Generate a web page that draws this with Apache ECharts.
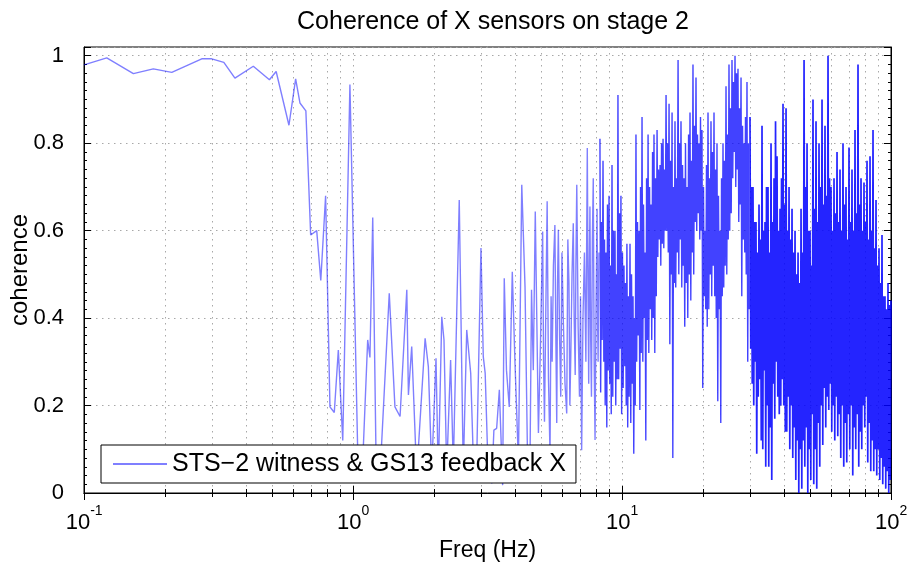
<!DOCTYPE html>
<html>
<head>
<meta charset="utf-8">
<title>Coherence of X sensors on stage 2</title>
<script src="https://cdn.jsdelivr.net/npm/echarts@6/dist/echarts.min.js"></script>
<style>
  html, body { margin: 0; padding: 0; background: #fff; }
  #chart { width: 909px; height: 565px; }
</style>
</head>
<body>
<div id="chart"></div>
<script>
// values (coherence vs frequency in Hz)
const lowFreq = [0.1, 0.1215, 0.1526, 0.181, 0.212, 0.274, 0.2985, 0.331, 0.364, 0.426, 0.489, 0.518,
  0.578, 0.612, 0.635, 0.668, 0.696, 0.733, 0.759, 0.791, 0.821, 0.852, 0.882, 0.916, 0.974, 0.989];
const lowCoh = [0.979, 0.995, 0.959, 0.970, 0.962, 0.993, 0.993, 0.985, 0.949, 0.976, 0.945, 0.964,
  0.841, 0.947, 0.892, 0.874, 0.590, 0.600, 0.486, 0.680, 0.197, 0.184, 0.327, 0.120, 0.934, 0.934];

const midFreq = [1.04, 1.08, 1.134, 1.156, 1.184, 1.22, 1.26, 1.364, 1.432, 1.496, 1.585, 1.607, 1.653, 1.725,
  1.854, 1.906, 1.962, 2.035, 2.075, 2.138, 2.179, 2.23, 2.306, 2.36, 2.43, 2.483, 2.57, 2.647, 2.739, 2.80,
  2.88, 2.99, 3.05, 3.10, 3.18, 3.28, 3.34, 3.42, 3.50, 3.60, 3.65, 3.72, 3.81, 3.91, 4.00, 4.12, 4.24, 4.36,
  4.45, 4.55, 4.61, 4.68, 4.76, 4.89, 4.98, 5.07, 5.11, 5.15, 5.21, 5.27, 5.33, 5.40, 5.45, 5.50, 5.56, 5.63,
  5.68, 5.72, 5.76, 5.80, 5.86, 5.92, 5.98, 6.05, 6.14, 6.23, 6.29, 6.35, 6.40, 6.45, 6.52, 6.59, 6.64, 6.70,
  6.74, 6.79, 6.87, 6.95, 7.01, 7.08, 7.16, 7.25, 7.34, 7.43, 7.48, 7.52, 7.56, 7.60, 7.65, 7.70, 7.76, 7.82,
  7.88, 7.94, 8.01, 8.08, 8.12, 8.15, 8.21];
const midCoh = [0.11, 0.03, 0.35, 0.31, 0.63, 0.05, 0.04, 0.457, 0.197, 0.175, 0.465, 0.224, 0.335, 0.04,
  0.354, 0.289, 0.05, 0.308, 0.04, 0.403, 0.35, 0.05, 0.304, 0.06, 0.411, 0.67, 0.05, 0.373, 0.274, 0.08,
  0.06, 0.56, 0.312, 0.274, 0.05, 0.022, 0.144, 0.148, 0.236, 0.018, 0.491, 0.281, 0.197, 0.506, 0.30, 0.07, 0.705, 0.472,
  0.10, 0.07, 0.465, 0.281, 0.644, 0.137, 0.35, 0.598, 0.30, 0.163, 0.42, 0.667, 0.26, 0.09, 0.45, 0.30, 0.52, 0.613,
  0.34, 0.16, 0.48, 0.602, 0.36, 0.22, 0.55, 0.396, 0.25, 0.182, 0.58, 0.48, 0.20, 0.31, 0.50, 0.617, 0.40, 0.27,
  0.52, 0.705, 0.38, 0.22, 0.45, 0.098, 0.40, 0.55, 0.30, 0.789, 0.45, 0.25, 0.50, 0.655, 0.35, 0.22, 0.58, 0.72,
  0.30, 0.121, 0.44, 0.65, 0.38, 0.30, 0.55];

// 8 - 30 Hz
const bandFreq = [
  8.28, 8.33, 8.39, 8.44, 8.50, 8.56, 8.61, 8.66, 8.72, 8.78, 8.83, 8.89, 8.95, 9.01, 9.07, 9.12,
  9.18, 9.24, 9.30, 9.36, 9.42, 9.48, 9.54, 9.60, 9.66, 9.72, 9.79, 9.85, 9.91, 9.97, 10.04, 10.10,
  10.17, 10.24, 10.30, 10.37, 10.43, 10.50, 10.57, 10.63, 10.71, 10.78, 10.85, 10.92, 10.99, 11.06, 11.13, 11.20,
  11.27, 11.34, 11.42, 11.49, 11.57, 11.65, 11.72, 11.79, 11.87, 11.95, 12.02, 12.10, 12.18, 12.26, 12.34, 12.42,
  12.50, 12.58, 12.66, 12.74, 12.82, 12.90, 12.99, 13.07, 13.15, 13.24, 13.32, 13.41, 13.50, 13.59, 13.67, 13.76,
  13.85, 13.94, 14.03, 14.12, 14.21, 14.30, 14.39, 14.49, 14.58, 14.67, 14.77, 14.86, 14.96, 15.06, 15.15, 15.25,
  15.35, 15.45, 15.55, 15.65, 15.74, 15.84, 15.95, 16.05, 16.16, 16.26, 16.37, 16.47, 16.57, 16.68, 16.79, 16.89,
  17.00, 17.11, 17.22, 17.33, 17.45, 17.56, 17.68, 17.79, 17.90, 18.02, 18.13, 18.25, 18.36, 18.48, 18.60, 18.72,
  18.84, 18.96, 19.08, 19.21, 19.33, 19.46, 19.58, 19.71, 19.83, 19.96, 20.09, 20.21, 20.35, 20.48, 20.61, 20.74,
  20.88, 21.02, 21.15, 21.28, 21.42, 21.56, 21.70, 21.84, 21.98, 22.12, 22.26, 22.41, 22.55, 22.70, 22.84, 22.99,
  23.14, 23.29, 23.44, 23.59, 23.74, 23.89, 24.05, 24.20, 24.36, 24.52, 24.67, 24.83, 24.99, 25.15, 25.31, 25.47,
  25.64, 25.81, 25.97, 26.14, 26.31, 26.48, 26.65, 26.82, 26.99, 27.17, 27.34, 27.51, 27.70, 27.88, 28.06, 28.24,
  28.41, 28.60, 28.78, 28.96, 29.15, 29.34, 29.53, 29.72];
const bandCoh = [
  0.81, 0.23, 0.62, 0.35, 0.76, 0.30, 0.58, 0.20, 0.55, 0.15, 0.66, 0.28, 0.68, 0.25, 0.52, 0.18,
  0.75, 0.22, 0.60, 0.30, 0.60, 0.20, 0.50, 0.26, 0.91, 0.26, 0.64, 0.33, 0.68, 0.18, 0.55, 0.24,
  0.52, 0.29, 0.48, 0.20, 0.57, 0.15, 0.45, 0.22, 0.57, 0.16, 0.50, 0.25, 0.45, 0.09, 0.40, 0.20,
  0.82, 0.30, 0.62, 0.36, 0.60, 0.19, 0.70, 0.32, 0.86, 0.30, 0.66, 0.40, 0.55, 0.12, 0.72, 0.35,
  0.82, 0.32, 0.70, 0.42, 0.66, 0.35, 0.78, 0.40, 0.82, 0.32, 0.72, 0.45, 0.83, 0.54, 0.74, 0.58,
  0.75, 0.52, 0.80, 0.57, 0.81, 0.56, 0.74, 0.60, 0.91, 0.60, 0.80, 0.55, 0.89, 0.34, 0.76, 0.50,
  0.87, 0.08, 0.70, 0.48, 0.85, 0.47, 0.72, 0.55, 0.99, 0.50, 0.80, 0.58, 0.85, 0.47, 0.75, 0.52,
  0.72, 0.38, 0.80, 0.48, 0.70, 0.40, 0.82, 0.50, 0.87, 0.44, 0.76, 0.55, 0.98, 0.50, 0.84, 0.62,
  0.95, 0.60, 0.82, 0.64, 0.80, 0.58, 0.86, 0.60, 0.83, 0.24, 0.70, 0.45, 0.60, 0.42, 0.75, 0.38,
  0.87, 0.42, 0.72, 0.50, 0.85, 0.45, 0.78, 0.52, 0.87, 0.45, 0.74, 0.40, 0.80, 0.21, 0.68, 0.42,
  0.60, 0.16, 0.72, 0.45, 0.80, 0.47, 0.76, 0.52, 0.93, 0.50, 0.82, 0.58, 0.98, 0.60, 0.88, 0.64,
  0.99, 0.72, 0.94, 0.78, 1.00, 0.70, 0.96, 0.74, 0.97, 0.62, 0.88, 0.66, 0.95, 0.45, 0.84, 0.58,
  0.80, 0.55, 0.86, 0.50, 0.94, 0.30, 0.80, 0.42];

// 30 - 100 Hz
const topFreq = [
  29.91, 30.10, 30.30, 30.49, 30.69, 30.89, 31.09, 31.29, 31.49, 31.69, 31.90, 32.10,
  32.31, 32.52, 32.73, 32.94, 33.15, 33.37, 33.58, 33.80, 34.01, 34.23, 34.45, 34.67,
  34.90, 35.12, 35.35, 35.58, 35.81, 36.04, 36.27, 36.51, 36.74, 36.98, 37.22, 37.46,
  37.70, 37.94, 38.19, 38.43, 38.68, 38.93, 39.18, 39.43, 39.68, 39.94, 40.20, 40.46,
  40.72, 40.98, 41.25, 41.51, 41.78, 42.05, 42.32, 42.59, 42.86, 43.14, 43.42, 43.70,
  43.98, 44.27, 44.55, 44.84, 45.13, 45.42, 45.72, 46.01, 46.30, 46.60, 46.90, 47.21,
  47.51, 47.82, 48.13, 48.43, 48.74, 49.06, 49.37, 49.69, 50.01, 50.33, 50.66, 50.98,
  51.29, 51.63, 51.96, 52.29, 52.63, 52.97, 53.31, 53.65, 54.00, 54.35, 54.70, 55.05,
  55.41, 55.77, 56.13, 56.49, 56.84, 57.21, 57.58, 57.95, 58.33, 58.71, 59.08, 59.46,
  59.84, 60.23, 60.62, 61.01, 61.40, 61.80, 62.20, 62.60, 63.00, 63.41, 63.82, 64.23,
  64.63, 65.05, 65.47, 65.89, 66.31, 66.74, 67.17, 67.61, 68.04, 68.48, 68.92, 69.36,
  69.81, 70.26, 70.72, 71.17, 71.62, 72.09, 72.55, 73.02, 73.49, 73.96, 74.44, 74.92,
  75.40, 75.89, 76.38, 76.87, 77.36, 77.86, 78.36, 78.87, 79.37, 79.89, 80.40, 80.92,
  81.44, 81.97, 82.50, 83.03, 83.56, 84.10, 84.64, 85.19, 85.73, 86.29, 86.84, 87.40,
  87.96, 88.53, 89.10, 89.68, 90.25, 90.84, 91.42, 92.01, 92.59, 93.19, 93.79, 94.39,
  95.00, 95.62, 96.23, 96.85, 97.46, 98.09, 98.72, 99.36, 100];
const topCoh = [
  0.86, 0.33, 0.70, 0.25, 0.70, 0.20, 0.62, 0.30, 0.62, 0.09, 0.55, 0.22,
  0.66, 0.26, 0.58, 0.12, 0.84, 0.10, 0.60, 0.28, 0.62, 0.06, 0.70, 0.20,
  0.70, 0.06, 0.55, 0.15, 0.80, 0.03, 0.62, 0.25, 0.72, 0.17, 0.85, 0.30,
  0.77, 0.22, 0.60, 0.18, 0.65, 0.20, 0.72, 0.26, 0.89, 0.20, 0.66, 0.14,
  0.88, 0.14, 0.60, 0.22, 0.70, 0.10, 0.58, 0.20, 0.65, 0.08, 0.55, 0.15,
  0.60, 0.03, 0.50, 0.12, 0.55, 0.00, 0.48, 0.10, 0.65, 0.01, 0.55, 0.12,
  0.99, 0.06, 0.70, 0.15, 0.80, 0.00, 0.60, 0.10, 0.60, 0.03, 0.52, 0.18,
  0.90, 0.02, 0.65, 0.10, 0.85, 0.01, 0.62, 0.16, 0.80, 0.06, 0.70, 0.20,
  0.90, 0.11, 0.66, 0.24, 0.84, 0.15, 0.68, 0.22, 1.00, 0.19, 0.72, 0.25,
  0.70, 0.14, 0.60, 0.20, 0.72, 0.12, 0.64, 0.22, 0.78, 0.13, 0.62, 0.18,
  0.74, 0.08, 0.60, 0.20, 0.80, 0.06, 0.66, 0.16, 0.70, 0.07, 0.58, 0.18,
  0.79, 0.10, 0.62, 0.20, 0.74, 0.04, 0.60, 0.15, 0.83, 0.10, 0.64, 0.18,
  0.98, 0.06, 0.66, 0.14, 0.72, 0.10, 0.60, 0.20, 0.71, 0.15, 0.62, 0.22,
  0.76, 0.07, 0.58, 0.16, 0.77, 0.05, 0.60, 0.12, 0.83, 0.05, 0.56, 0.10,
  0.67, 0.04, 0.52, 0.10, 0.56, 0.03, 0.48, 0.08, 0.59, 0.02, 0.45, 0.06,
  0.45, 0.01, 0.42, 0.05, 0.48, 0.00, 0.43, 0.03, 0.44];

const xTicks = [0.1, 1, 10, 100];
const yTicks = [0, 0.2, 0.4, 0.6, 0.8, 1];
const legendName = 'STS\u22122 witness & GS13 feedback X';

// one curve, drawn in three pieces so the crowded high-frequency part reads darker
const pairs = (fs, cs) => fs.map((f, i) => [f, cs[i]]);
const sparseData = pairs(lowFreq.concat(midFreq), lowCoh.concat(midCoh));
const bandData = pairs(bandFreq, bandCoh);
const topData = pairs(topFreq, topCoh);

const font = '"Liberation Sans", Arial, Helvetica, sans-serif';
const gridDots = { color: '#a8a8a8', width: 1, type: [1.5, 4.5] };

const chart = echarts.init(document.getElementById('chart'), null, { renderer: 'canvas' });

const logAxis = (pos, showLabel) => ({
  type: 'log',
  logBase: 10,
  min: xTicks[0],
  max: xTicks[xTicks.length - 1],
  position: pos,
  gridIndex: 0,
  axisLine: { show: true, lineStyle: { color: '#000', width: 1 } },
  axisTick: { show: true, inside: true, length: 7, lineStyle: { color: '#000' } },
  minorTick: { show: true, splitNumber: 9, length: 4, lineStyle: { color: '#000' } },
  splitLine: { show: showLabel, lineStyle: gridDots },
  minorSplitLine: { show: showLabel, lineStyle: gridDots },
  axisLabel: showLabel ? {
    show: true,
    margin: 11,
    // 10 with a raised exponent; the tiny "s" token only sets the line height
    formatter: v => '{s| }{b|10}{e|' + Math.round(Math.log10(v)) + '}',
    rich: {
      s: { fontSize: 1, lineHeight: 30 },
      b: { fontSize: 22, fontFamily: font, color: '#000', lineHeight: 22, verticalAlign: 'bottom' },
      e: { fontSize: 14, fontFamily: font, color: '#000', lineHeight: 14, verticalAlign: 'top' }
    }
  } : { show: false },
  name: showLabel ? 'Freq (Hz)' : '',
  nameLocation: 'middle',
  nameGap: 43,
  nameTextStyle: { fontSize: 23, fontFamily: font, color: '#000' }
});

const linAxis = (pos, showLabel) => ({
  type: 'value',
  min: 0,
  max: 1.02,
  interval: 0.2,
  position: pos,
  axisLine: { show: true, lineStyle: { color: '#000', width: 1 } },
  axisTick: { show: true, inside: true, length: 7, lineStyle: { color: '#000' } },
  minorTick: { show: true, splitNumber: 10, length: 3, lineStyle: { color: '#000' } },
  splitLine: { show: showLabel, lineStyle: gridDots },
  axisLabel: showLabel ? {
    show: true,
    margin: 20,
    fontSize: 22,
    fontFamily: font,
    color: '#000',
    formatter: v => (yTicks.some(t => Math.abs(t - v) < 1e-9) ? String(v) : '')
  } : { show: false },
  name: showLabel ? 'coherence' : '',
  nameLocation: 'middle',
  nameGap: 52,
  nameMoveOverlap: false,
  nameTextStyle: { fontSize: 24, fontFamily: font, color: '#000' }
});

const piece = (data, width, opacity) => ({
  name: legendName,
  type: 'line',
  data: data,
  symbol: 'none',
  showSymbol: false,
  clip: true,
  lineStyle: { width: width, color: '#0000ff', opacity: opacity },
  itemStyle: { color: '#0000ff' }
});

chart.setOption({
  animation: false,
  backgroundColor: '#fff',
  title: {
    text: 'Coherence of X sensors on stage 2',
    left: 488,
    top: 5,
    textAlign: 'center',
    textStyle: { fontSize: 25, fontWeight: 'normal', fontFamily: font, color: '#000' }
  },
  grid: {
    left: 84, right: 18, top: 47, bottom: 72,
    containLabel: false, outerBoundsMode: 'none',
    show: true, borderColor: '#000', borderWidth: 1, backgroundColor: '#fff'
  },
  legend: {
    left: 101,
    top: 445,
    orient: 'horizontal',
    selectedMode: false,
    backgroundColor: '#fff',
    borderColor: '#000',
    borderWidth: 1,
    padding: [6, 10, 6, 11],
    itemWidth: 54,
    itemHeight: 14,
    itemStyle: { opacity: 0 },
    textStyle: { fontSize: 25, fontFamily: font, color: '#000', lineHeight: 26 },
    data: [legendName]
  },
  xAxis: [logAxis('bottom', true), logAxis('top', false)],
  yAxis: [linAxis('left', true), linAxis('right', false)],
  series: [
    piece(sparseData, 1.4, 0.5),
    piece(bandData, 1.4, 0.74),
    piece(topData, 1.7, 0.86)
  ]
});
</script>
</body>
</html>
